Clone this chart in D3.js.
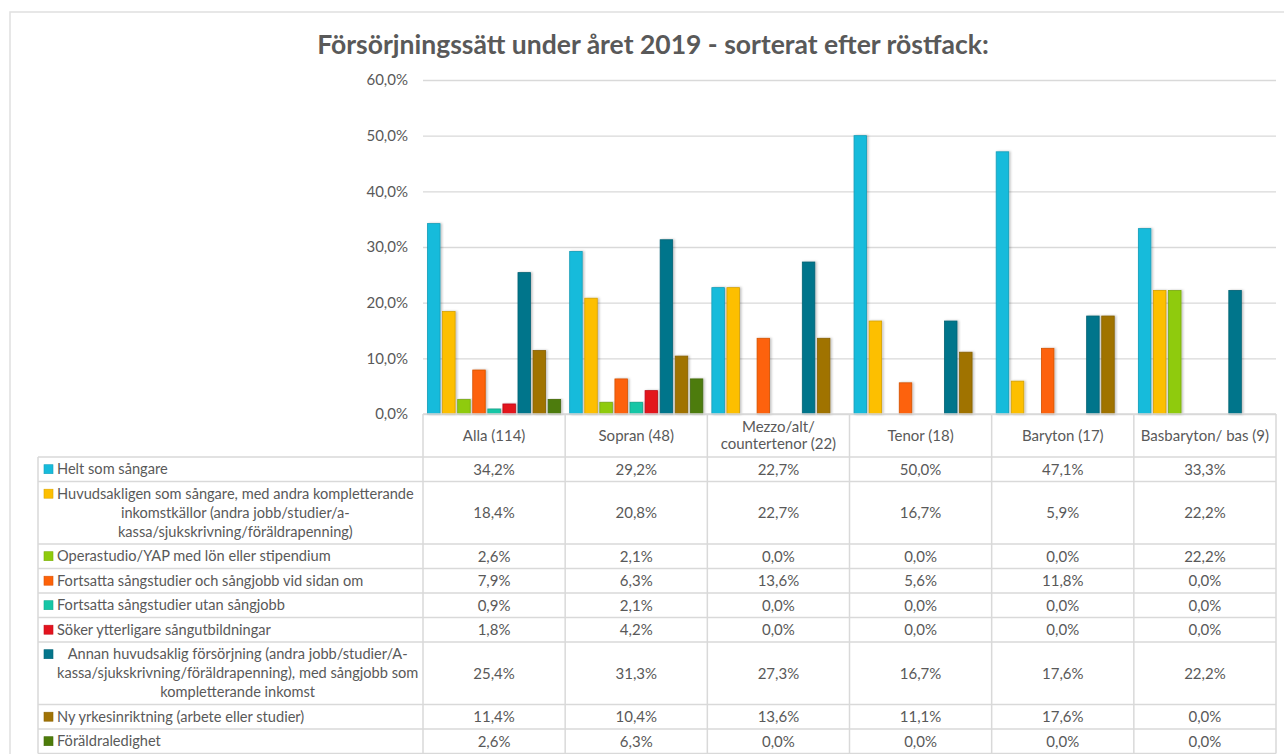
<!DOCTYPE html>
<html lang="sv">
<head>
    <meta charset="UTF-8">
    <title>Försörjningssätt 2019</title>
    <script src="https://cdn.jsdelivr.net/npm/d3@7/dist/d3.min.js"></script>
    <style>
        body { margin: 0; background: #fff; }
        text { font-family: Lato, "Open Sans", sans-serif; fill: #595959; }
        .grid line { stroke: #d9d9d9; stroke-width: 1.3px; }
        .grid text { font-size: 15px; }
        .cell-line { stroke: #d9d9d9; stroke-width: 1.5px; }
    </style>
</head>
<body>
<script>
    // data
    const categories = ["Alla (114)", "Sopran (48)", "Mezzo/alt/\ncountertenor (22)", "Tenor (18)", "Baryton (17)", "Basbaryton/ bas (9)"]
    const seriesNames = [
        "Helt som sångare",
        "Huvudsakligen som sångare, med andra kompletterande\ninkomstkällor (andra jobb/studier/a-\nkassa/sjukskrivning/föräldrapenning)",
        "Operastudio/YAP med lön eller stipendium",
        "Fortsatta sångstudier och sångjobb vid sidan om",
        "Fortsatta sångstudier utan sångjobb",
        "Söker ytterligare sångutbildningar",
        "Annan huvudsaklig försörjning (andra jobb/studier/A-\nkassa/sjukskrivning/föräldrapenning), med sångjobb som\nkompletterande inkomst",
        "Ny yrkesinriktning (arbete eller studier)",
        "Föräldraledighet"
    ]
    const seriesColors = ["#17bbdb", "#fdbf00", "#8fcb0c", "#fd6208", "#15c6a6", "#e3131e", "#04758b", "#a07305", "#4d7c0a"]
    const values = [
        [34.2, 29.2, 22.7, 50.0, 47.1, 33.3],
        [18.4, 20.8, 22.7, 16.7, 5.9, 22.2],
        [2.6, 2.1, 0.0, 0.0, 0.0, 22.2],
        [7.9, 6.3, 13.6, 5.6, 11.8, 0.0],
        [0.9, 2.1, 0.0, 0.0, 0.0, 0.0],
        [1.8, 4.2, 0.0, 0.0, 0.0, 0.0],
        [25.4, 31.3, 27.3, 16.7, 17.6, 22.2],
        [11.4, 10.4, 13.6, 11.1, 17.6, 0.0],
        [2.6, 6.3, 0.0, 0.0, 0.0, 0.0]
    ]
    const yTicks = [0, 10, 20, 30, 40, 50, 60]

    const W = 1284, H = 754
    const plot = {left: 423, right: 1276, top: 80, bottom: 414}
    const tableLeft = 38, headerH = 43
    const rowH = n => 5.5 + 19 * n

    const sv = d3.formatLocale({decimal: ",", thousands: " ", grouping: [3], currency: ["", " kr"]})
    const pct = d => sv.format(".1f")(d) + "%"

    const svg = d3.select("body").append("svg").attr("width", W).attr("height", H)

    const defs = svg.append("defs")
    const shadow = defs.append("filter").attr("id", "shadow").attr("x", "-30%").attr("y", "-10%").attr("width", "160%").attr("height", "120%")
    shadow.append("feDropShadow").attr("dx", 1.5).attr("dy", 0).attr("stdDeviation", 0.8)
        .attr("flood-color", "#000").attr("flood-opacity", 0.25)

    // outer frame
    svg.append("rect").attr("x", 10).attr("y", 12).attr("width", W).attr("height", H)
        .attr("fill", "none").attr("stroke", "#e0e0e0").attr("stroke-width", 1.5)

    svg.append("text").attr("x", 653).attr("y", 54).attr("text-anchor", "middle")
        .style("font-size", "26.5px").style("font-weight", "bold")
        .text("Försörjningssätt under året 2019 - sorterat efter röstfack:")

    const x = d3.scaleBand().domain(d3.range(categories.length)).range([plot.left, plot.right])
    const xs = d3.scaleBand().domain(d3.range(seriesNames.length)).range([0, x.bandwidth()])
        .paddingInner(0.17).paddingOuter(0.3)
    const y = d3.scaleLinear().domain([0, 60]).range([plot.bottom, plot.top])

    // gridlines + y labels
    const gAxis = svg.append("g").attr("class", "grid").attr("transform", `translate(${plot.left},0)`)
        .call(d3.axisLeft(y).tickValues(yTicks).tickFormat(pct).tickSize(-(plot.right - plot.left)).tickPadding(15))
    gAxis.select(".domain").remove()
    gAxis.selectAll(".tick text").attr("x", -15).attr("dy", "0.32em")

    // bars
    const groups = svg.append("g").selectAll("g").data(categories).join("g")
        .attr("transform", (d, i) => `translate(${x(i)},0)`)
    groups.selectAll("rect")
        .data((d, ci) => values.map((row, si) => ({si, v: row[ci]})).filter(d => d.v > 0))
        .join("rect")
        .attr("x", d => xs(d.si))
        .attr("width", xs.bandwidth())
        .attr("y", d => y(d.v))
        .attr("height", d => y(0) - y(d.v))
        .attr("fill", d => seriesColors[d.si])
        .attr("stroke", d => d3.color(seriesColors[d.si]).darker(0.5))
        .attr("stroke-width", 0.8)
        .attr("filter", "url(#shadow)")

    // data table
    const table = svg.append("g")
    const rowTops = []
    let yy = plot.bottom + headerH
    seriesNames.forEach(s => { rowTops.push(yy); yy += rowH(s.split("\n").length) })
    const tableBottom = yy

    // horizontal lines
    table.append("line").attr("class", "cell-line")
        .attr("x1", plot.left).attr("x2", plot.right).attr("y1", plot.bottom).attr("y2", plot.bottom)
    table.selectAll("line.h").data(rowTops.concat([tableBottom])).join("line")
        .attr("class", "cell-line h")
        .attr("x1", tableLeft).attr("x2", plot.right).attr("y1", d => d).attr("y2", d => d)
    // vertical lines
    table.selectAll("line.v").data(d3.range(categories.length + 1)).join("line")
        .attr("class", "cell-line v")
        .attr("x1", i => plot.left + i * x.step()).attr("x2", i => plot.left + i * x.step())
        .attr("y1", plot.bottom).attr("y2", tableBottom)
    table.append("line").attr("class", "cell-line")
        .attr("x1", tableLeft).attr("x2", tableLeft).attr("y1", rowTops[0]).attr("y2", tableBottom)

    // header texts
    categories.forEach((c, i) => {
        const lines = c.split("\n")
        const cy = plot.bottom + headerH / 2
        const t = table.append("text").attr("text-anchor", "middle").style("font-size", "15px")
        lines.forEach((ln, k) => {
            t.append("tspan").attr("x", x(i) + x.bandwidth() / 2)
                .attr("y", cy + (k - (lines.length - 1) / 2) * 17).attr("dy", "0.35em").text(ln)
        })
    })

    // legend cells + values
    seriesNames.forEach((s, si) => {
        const lines = s.split("\n")
        const top = rowTops[si], h = rowH(lines.length), cy = top + h / 2
        table.append("rect").attr("x", 44).attr("y", top + 12.2 - 4.5).attr("width", 9).attr("height", 9)
            .attr("fill", seriesColors[si]).attr("stroke", d3.color(seriesColors[si]).darker(0.4)).attr("stroke-width", 0.6)
        const t = table.append("text").style("font-size", "14.6px")
        const spans = lines.map((ln, k) => t.append("tspan").attr("y", top + 12.2 + k * 19).attr("dy", "0.35em").text(ln))
        if (lines.length === 1) {
            spans[0].attr("x", 57)
        } else {
            const widths = spans.map(sp => sp.node().getComputedTextLength())
            const maxW = d3.max(widths)
            spans.forEach((sp, k) => sp.attr("x", 57 + (maxW - widths[k]) / 2))
        }
        values[si].forEach((v, ci) => {
            table.append("text").attr("x", x(ci) + x.bandwidth() / 2).attr("y", cy).attr("dy", "0.35em")
                .attr("text-anchor", "middle").style("font-size", "15px").text(pct(v))
        })
    })
</script>
</body>
</html>
